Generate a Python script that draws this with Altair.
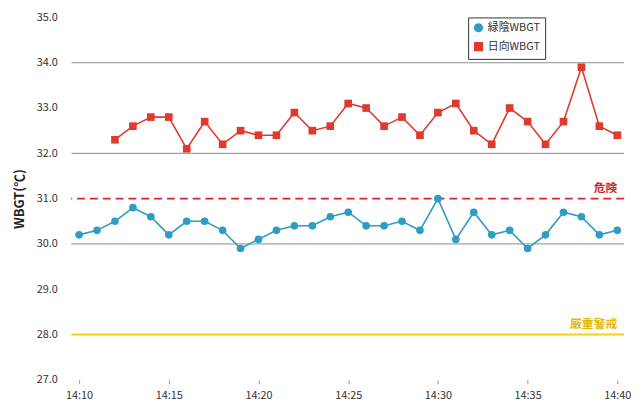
import altair as alt
import pandas as pd

minutes_blue = list(range(0, 31))
blue_vals = [30.2, 30.3, 30.5, 30.8, 30.6, 30.2, 30.5, 30.5, 30.3, 29.9, 30.1,
             30.3, 30.4, 30.4, 30.6, 30.7, 30.4, 30.4, 30.5, 30.3, 31.0,
             30.1, 30.7, 30.2, 30.3, 29.9, 30.2, 30.7, 30.6, 30.2, 30.3]
minutes_red = list(range(2, 31))
red_vals = [32.3, 32.6, 32.8, 32.8, 32.1, 32.7, 32.2, 32.5, 32.4, 32.4,
            32.9, 32.5, 32.6, 33.1, 33.0, 32.6, 32.8, 32.4, 32.9, 33.1,
            32.5, 32.2, 33.0, 32.7, 32.2, 32.7, 33.9, 32.6, 32.4]
series_names = ["緑陰WBGT", "日向WBGT"]
series_colors = ["#2f9cc4", "#e03a2e"]
grid_vals = [30, 32, 34]
y_ticks = [27, 28, 29, 30, 31, 32, 33, 34, 35]
x_ticks = [0, 5, 10, 15, 20, 25, 30]
danger_level = 31.0
warning_level = 28.0

df = pd.concat([
    pd.DataFrame({"m": minutes_blue, "v": blue_vals, "s": series_names[0]}),
    pd.DataFrame({"m": minutes_red, "v": red_vals, "s": series_names[1]}),
])

FONT = "Noto Sans CJK JP"
xscale = alt.Scale(domain=[-0.44, 30.38], nice=False, zero=False)
yscale = alt.Scale(domain=[27, 35], nice=False, zero=False)

xaxis = alt.Axis(
    values=x_ticks, labelExpr="'14:' + (10 + datum.value)", title=None,
    domain=False, grid=False, ticks=True, tickSize=4, tickColor="#999",
    labelPadding=6, labelFontSize=11, labelColor="#333", labelFont=FONT)
yaxis = alt.Axis(
    values=y_ticks, format=".1f", title="WBGT(℃)", titleFontSize=13,
    titleFontWeight="bold", titleColor="#222", titlePadding=10, titleFont=FONT,
    domain=False, grid=False, ticks=False, labelPadding=14,
    labelFontSize=11, labelColor="#333", labelFont=FONT)


def X():
    return alt.X("m:Q", scale=xscale, axis=xaxis, title=None)


def Y():
    return alt.Y("v:Q", scale=yscale, axis=yaxis, title="WBGT(℃)")


grid = alt.Chart(pd.DataFrame({"v": grid_vals})).mark_rule(
    color="#8a8a8a", strokeWidth=1).encode(y=Y())

danger = alt.Chart(pd.DataFrame({"v": [danger_level]})).mark_rule(
    color="#e0202a", strokeWidth=2, strokeDash=[8, 5]).encode(y=Y())
warning = alt.Chart(pd.DataFrame({"v": [warning_level]})).mark_rule(
    color="#f2cf1a", strokeWidth=2).encode(y=Y())

txt = alt.Chart(pd.DataFrame({
    "m": [30.0, 30.0], "v": [danger_level, warning_level],
    "t": ["危険", "厳重警戒"], "c": ["#c8283a", "#e8b800"]})).mark_text(
    align="right", baseline="bottom", dy=-4, fontSize=12, font=FONT,
    fontWeight="bold").encode(
    x=X(), y=Y(), text="t:N", color=alt.Color("c:N", scale=None))

color = alt.Color("s:N", scale=alt.Scale(domain=series_names, range=series_colors),
                  legend=alt.Legend(title=None, orient="none", legendX=402, legendY=0,
                                    strokeColor="#333", padding=5, labelFont=FONT,
                                    labelFontSize=11, labelColor="#333", symbolSize=60,
                                    rowPadding=4))
shape = alt.Shape("s:N", scale=alt.Scale(domain=series_names, range=["circle", "square"]),
                  legend=None)

lines = alt.Chart(df).mark_line(strokeWidth=1.6).encode(
    x=X(), y=Y(), color=color, detail="s:N")
points = alt.Chart(df).mark_point(filled=True, size=60, opacity=1).encode(
    x=X(), y=Y(), color=color, shape=shape)

chart = alt.layer(grid, warning, danger, lines, points, txt).properties(
    width=560, height=367,
    autosize=alt.AutoSizeParams(type="none"),
    padding={"left": 64, "top": 7, "right": 10, "bottom": 27},
).configure(font=FONT).configure_view(stroke=None)

chart.save("out.html", embed_options={"renderer": "svg", "actions": False})
